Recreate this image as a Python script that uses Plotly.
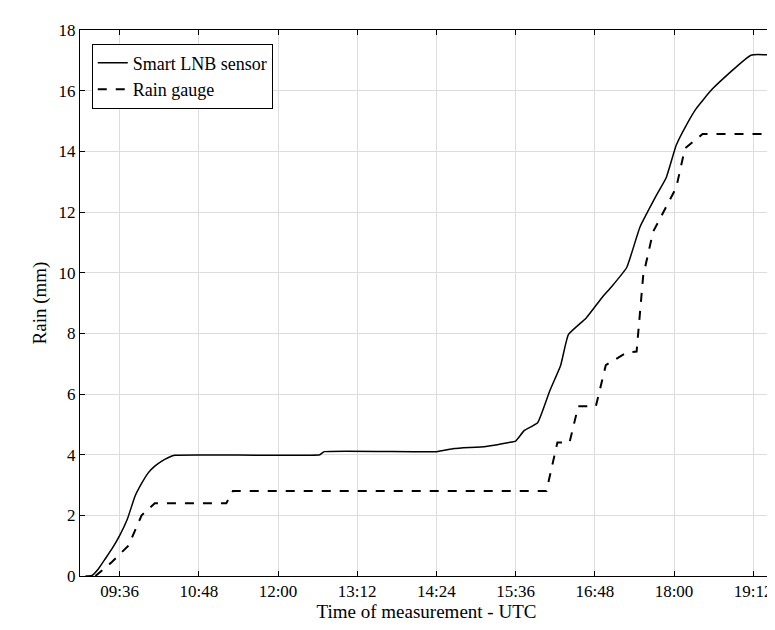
import plotly.graph_objects as go

# Smart LNB sensor (times UTC, rain in mm)
lnb_time = ["09:05", "09:11", "09:17", "09:23", "09:30", "09:36", "09:43", "09:50", "09:56",
            "10:02", "10:08", "10:14", "10:20", "10:26",
            "12:38", "12:42", "14:24", "14:40", "15:09", "15:30", "15:36", "15:44", "15:56",
            "16:07", "16:17", "16:24", "16:40", "16:55", "17:04", "17:17", "17:29", "17:44",
            "17:53", "18:02", "18:11", "18:20", "18:35", "19:10", "19:30"]
lnb_rain = [0, 0.02, 0.25, 0.57, 0.95, 1.33, 1.87, 2.63, 3.05,
            3.4, 3.62, 3.78, 3.9, 3.98,
            4.0, 4.1, 4.1, 4.2, 4.27, 4.4, 4.45, 4.8, 5.05,
            6.1, 6.95, 7.96, 8.5, 9.2, 9.57, 10.17, 11.5, 12.55,
            13.14, 14.2, 14.85, 15.4, 16.06, 17.17, 17.17]

# Rain gauge
gauge_time = ["09:14", "09:29", "09:44", "09:56", "10:08", "11:13", "11:19", "16:04", "16:14",
              "16:25", "16:33", "16:49", "16:58", "17:17", "17:26", "17:32", "17:41", "17:50",
              "18:02", "18:10", "18:26", "19:30"]
gauge_rain = [0, 0.46, 1.0, 2.0, 2.4, 2.4, 2.8, 2.8, 4.4,
              4.4, 5.6, 5.6, 6.95, 7.37, 7.4, 9.9, 11.35, 11.95,
              12.8, 14.1, 14.57, 14.57]

tick_labels = ["09:36", "10:48", "12:00", "13:12", "14:24", "15:36", "16:48", "18:00", "19:12"]

day = "2014-01-01 "
fig = go.Figure()
fig.add_trace(go.Scatter(x=[day + t for t in lnb_time], y=lnb_rain, mode="lines",
                         name="Smart LNB sensor", line=dict(color="black", width=1.5, shape="spline", smoothing=0.4)))
fig.add_trace(go.Scatter(x=[day + t for t in gauge_time], y=gauge_rain, mode="lines",
                         name="Rain gauge", line=dict(color="black", width=2, dash="dash")))

axis = dict(showline=True, linecolor="black", linewidth=1, mirror="ticks", ticks="inside",
            ticklen=5, tickcolor="black", gridcolor="#dddddd", zeroline=False,
            tickfont=dict(size=17, color="black"))
fig.update_layout(
    width=775, height=630, plot_bgcolor="white", paper_bgcolor="white",
    margin=dict(l=72, r=10, t=22, b=62),
    font=dict(family="Liberation Serif", color="black", size=17),
    xaxis=dict(axis, type="date", range=[day + "09:00", day + "19:30"],
               tickvals=[day + t for t in tick_labels], ticktext=tick_labels,
               title=dict(text="Time of measurement - UTC", font=dict(size=19), standoff=2)),
    yaxis=dict(axis, range=[0, 18], dtick=2,
               title=dict(text="Rain (mm)", font=dict(size=19), standoff=6)),
    legend=dict(x=0.017, y=0.975, xanchor="left", yanchor="top", bgcolor="white",
                bordercolor="black", borderwidth=1, font=dict(size=18), tracegroupgap=0),
    showlegend=True,
)

fig.write_html("out.html")
